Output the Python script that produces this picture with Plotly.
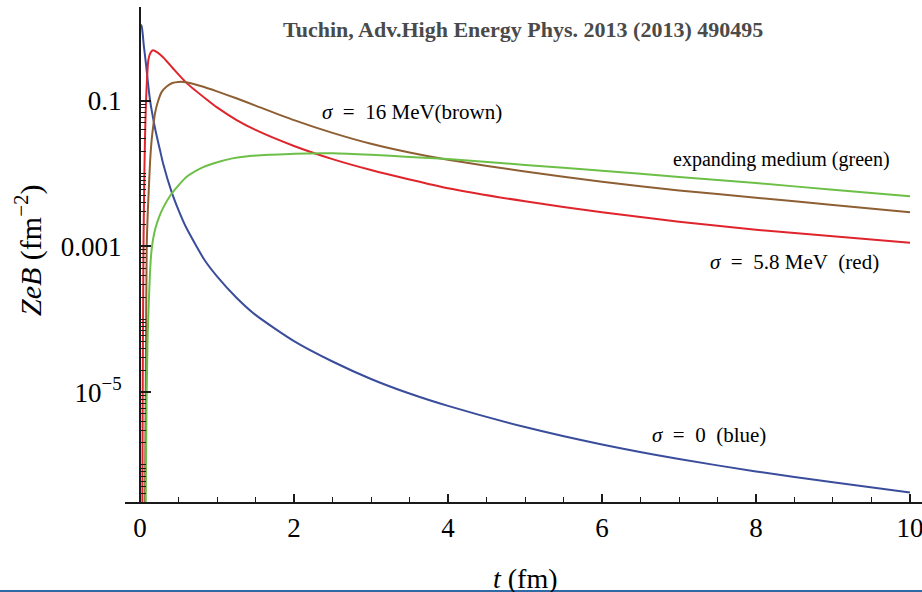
import numpy as np
import plotly.graph_objects as go

# ---------------- data (t in fm, values as log10(ZeB / fm^-2)) ----------------
t_blue = [0, 0.02, 0.05, 0.075, 0.1, 0.13, 0.2, 0.26, 0.3, 0.41, 0.5, 0.6, 0.84, 1.0,
          1.25, 1.5, 2.0, 2.5, 3.0, 3.5, 4.0, 5.0, 6.0, 7.0, 8.0, 9.0, 10.0]
log_blue = [0.05, 0.03, -0.25, -0.47, -0.72, -0.99, -1.40, -1.68, -1.86, -2.25, -2.50, -2.74,
            -3.19, -3.41, -3.70, -3.94, -4.30, -4.58, -4.82, -5.02, -5.19, -5.48, -5.72,
            -5.92, -6.09, -6.24, -6.38]

t_red = [0.028, 0.031, 0.035, 0.04, 0.045, 0.055, 0.065, 0.078, 0.09, 0.108, 0.138, 0.17,
         0.22, 0.3, 0.43, 0.61, 0.87, 1.0, 1.25, 1.5, 2.0, 2.5, 3.0, 3.5, 4.0, 5.0, 6.0,
         7.0, 8.0, 9.0, 10.0]
log_red = [-7.5, -6.5, -5.0, -3.9, -3.0, -2.1, -1.5, -1.0, -0.72, -0.44, -0.336, -0.305,
           -0.33, -0.40, -0.556, -0.76, -0.985, -1.09, -1.26, -1.40, -1.62, -1.80, -1.95,
           -2.08, -2.20, -2.38, -2.53, -2.66, -2.77, -2.86, -2.95]

t_brown = [0.06, 0.065, 0.074, 0.087, 0.1, 0.108, 0.13, 0.15, 0.17, 0.195, 0.23, 0.28,
           0.35, 0.42, 0.5, 0.6, 0.8, 1.0, 1.25, 1.5, 2.0, 2.5, 3.0, 3.5, 4.0, 5.0, 6.0,
           7.0, 8.0, 9.0, 10.0]
log_brown = [-7.5, -6.5, -5.0, -3.0, -2.55, -2.36, -1.85, -1.55, -1.36, -1.17, -1.02, -0.88,
             -0.80, -0.755, -0.74, -0.745, -0.80, -0.87, -0.965, -1.065, -1.265, -1.44, -1.59,
             -1.71, -1.81, -1.97, -2.11, -2.23, -2.33, -2.43, -2.53]

t_green = [0.07, 0.074, 0.08, 0.087, 0.1, 0.13, 0.15, 0.17, 0.2, 0.25, 0.3, 0.4, 0.5, 0.61,
           0.8, 0.95, 1.2, 1.4, 1.7, 2.0, 2.5, 3.0, 3.5, 4.0, 5.0, 6.0, 7.0, 8.0, 9.0, 10.0]
log_green = [-7.5, -6.5, -5.7, -5.0, -4.2, -3.35, -3.05, -2.90, -2.75, -2.59, -2.47, -2.29,
             -2.16, -2.04, -1.92, -1.86, -1.79, -1.76, -1.74, -1.725, -1.72, -1.74, -1.77,
             -1.80, -1.88, -1.96, -2.045, -2.13, -2.22, -2.31]

x_tick_vals = [0, 2, 4, 6, 8, 10]
y_tick_vals = [0.1, 0.001, 1e-5]
y_tick_text = ["0.1", "0.001", "10<sup>\u22125</sup>"]
y_minor_vals = [k * 10.0 ** e for e in range(-7, -1) for k in range(1, 10)
                if not (k == 1 and e in (-1, -3, -5))]

series = [
    ("\u03c3 = 0 (blue)", t_blue, log_blue, "#3a4d9c"),
    ("\u03c3 = 5.8 MeV (red)", t_red, log_red, "#e0242c"),
    ("\u03c3 = 16 MeV (brown)", t_brown, log_brown, "#8e5f33"),
    ("expanding medium (green)", t_green, log_green, "#6cbf47"),
]

# ---------------- layout geometry ----------------
W, H = 922, 592
ML, MR, MT, MB = 125, 0, 7, 90
PW, PH = W - ML - MR, H - MT - MB
X_RANGE = [-0.195, 10.156]
Y_RANGE = [-6.51, 0.289]

def px(xp):
    return (xp - ML) / PW

def py(yp):
    return (H - MB - yp) / PH

SERIF = "Liberation Serif, Times New Roman, serif"
SP = "\u2002"

fig = go.Figure()
for name, t, lg, col in series:
    fig.add_trace(go.Scatter(
        x=t, y=10 ** np.array(lg), mode="lines", name=name,
        line=dict(color=col, width=2, shape="spline", smoothing=0.6),
        hoverinfo="skip", showlegend=False))

fig.update_layout(
    width=W, height=H,
    margin=dict(l=ML, r=MR, t=MT, b=MB, autoexpand=False),
    paper_bgcolor="white", plot_bgcolor="white",
    font=dict(family=SERIF, color="black"),
    xaxis=dict(
        range=X_RANGE, showgrid=False, zeroline=False,
        showline=True, linecolor="#1a1a1a", linewidth=2,
        ticks="inside", ticklen=8, tickwidth=1.5, tickcolor="#1a1a1a",
        tickvals=x_tick_vals, ticktext=[str(v) for v in x_tick_vals],
        tickfont=dict(family=SERIF, size=27, color="black"),
        ticklabelstandoff=1, ticklabeloverflow="allow",
        minor=dict(ticks="inside", ticklen=5, tickwidth=1.2, dtick=0.5,
                   tickcolor="#1a1a1a", showgrid=False),
        automargin=False,
    ),
    yaxis=dict(
        type="log", range=Y_RANGE, showgrid=False, zeroline=False,
        anchor="free", position=px(140),
        showline=True, linecolor="#1a1a1a", linewidth=2,
        ticks="inside", ticklen=10, tickwidth=1.5, tickcolor="#1a1a1a",
        tickvals=y_tick_vals, ticktext=y_tick_text,
        tickfont=dict(family=SERIF, size=27, color="black"),
        ticklabelstandoff=12, ticklabeloverflow="allow",
        minor=dict(ticks="inside", ticklen=5, tickwidth=1.2, tickvals=y_minor_vals,
                   tickcolor="#1a1a1a", showgrid=False),
        automargin=False,
    ),
)

ann = [
    dict(text="Tuchin, Adv.High Energy Phys. 2013 (2013) 490495", x=px(523), y=py(30),
         font=dict(family=SERIF, size=22, color="#4a4a4a", weight="bold"),
         xanchor="center", yanchor="middle"),
    dict(text=f"<i>\u03c3</i>{SP}={SP}16 MeV(brown)", x=px(320), y=py(112),
         font=dict(family=SERIF, size=21), xanchor="left", yanchor="middle"),
    dict(text="expanding medium (green)", x=px(671), y=py(159),
         font=dict(family=SERIF, size=20), xanchor="left", yanchor="middle"),
    dict(text=f"<i>\u03c3</i>{SP}={SP}5.8 MeV{SP}(red)", x=px(708), y=py(262),
         font=dict(family=SERIF, size=21), xanchor="left", yanchor="middle"),
    dict(text=f"<i>\u03c3</i>{SP}={SP}0{SP}(blue)", x=px(650), y=py(435),
         font=dict(family=SERIF, size=21), xanchor="left", yanchor="middle"),
    dict(text="<i>ZeB</i> (fm<sup>\u22122</sup>)", x=px(28), y=py(250), textangle=-90,
         font=dict(family=SERIF, size=30), xanchor="center", yanchor="middle"),
    dict(text="<i>t</i> (fm)", x=px(525), y=py(578),
         font=dict(family=SERIF, size=28), xanchor="center", yanchor="middle"),
]
for a in ann:
    a.update(xref="paper", yref="paper", showarrow=False)
fig.update_layout(annotations=ann)

fig.add_shape(type="line", xref="paper", yref="paper",
              x0=px(0), x1=px(W), y0=py(591), y1=py(591),
              line=dict(color="#2f6aa5", width=2))

fig.write_html("out.html")
